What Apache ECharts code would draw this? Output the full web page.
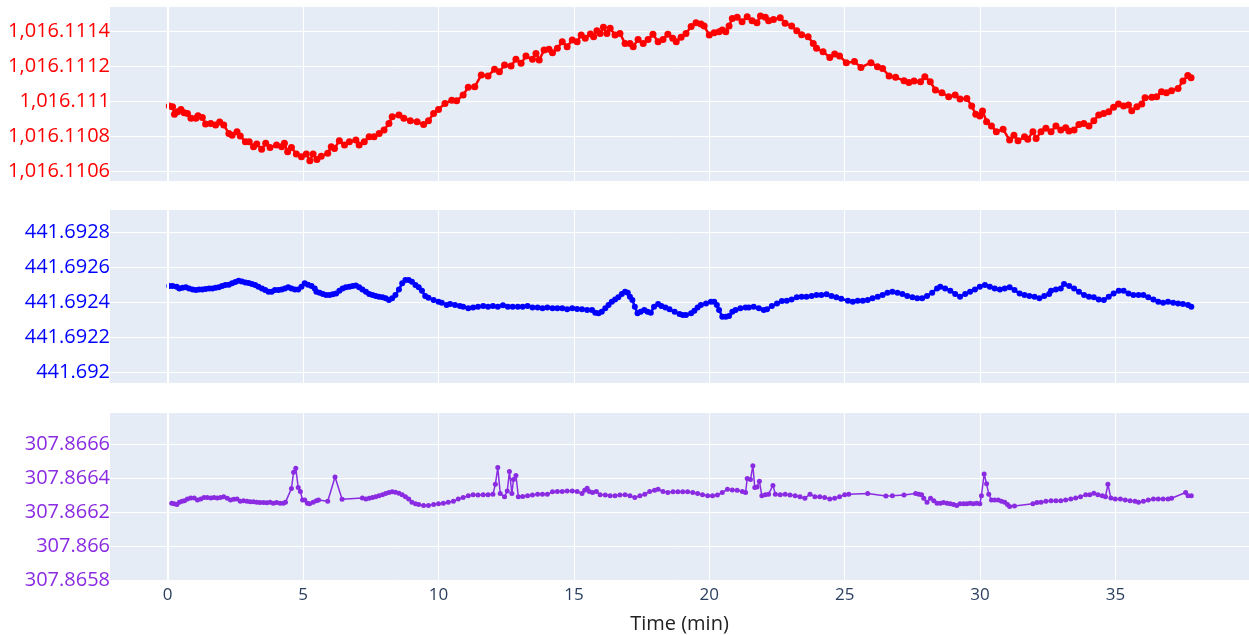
<!DOCTYPE html>
<html>
<head>
<meta charset="utf-8">
<script src="https://cdn.jsdelivr.net/npm/echarts@6/dist/echarts.min.js"></script>
<style>
  html, body { margin: 0; padding: 0; background: #ffffff; }
  #chart { width: 1249px; height: 635px; }
</style>
</head>
<body>
<div id="chart"></div>
<script>
// ---- Trace 1 (red) ----
const redTime = [
  0.06, 0.18, 0.25, 0.37, 0.49, 0.61, 0.73, 0.86, 1.04, 1.12, 1.28, 1.40, 1.59, 1.77, 1.92, 2.07,
  2.26, 2.38, 2.56, 2.68, 2.87, 3.01, 3.17, 3.29, 3.47, 3.62, 3.78, 4.02, 4.21, 4.31, 4.43, 4.57,
  4.75, 4.94, 5.12, 5.25, 5.37, 5.51, 5.67, 5.91, 6.04, 6.16, 6.34, 6.53, 6.71, 6.95, 7.07, 7.26,
  7.44, 7.62, 7.81, 7.99, 8.17, 8.29, 8.54, 8.72, 8.96, 9.21, 9.45, 9.63, 9.82, 10.00, 10.24, 10.49,
  10.67, 10.91, 11.10, 11.34, 11.58, 11.83, 12.07, 12.25, 12.44, 12.68, 12.86, 13.05, 13.23, 13.47,
  13.60, 13.72, 13.90, 14.08, 14.21, 14.39, 14.57, 14.75, 14.94, 15.12, 15.27, 15.42, 15.61, 15.73,
  15.85, 15.97, 16.09, 16.22, 16.34, 16.52, 16.70, 16.89, 17.07, 17.19, 17.37, 17.56, 17.74, 17.92,
  18.11, 18.29, 18.47, 18.65, 18.78, 18.96, 19.14, 19.33, 19.51, 19.69, 19.81, 20.00, 20.18, 20.36,
  20.48, 20.61, 20.73, 20.85, 21.03, 21.21, 21.40, 21.58, 21.76, 21.89, 22.07, 22.19, 22.37, 22.62,
  22.80, 23.04, 23.23, 23.41, 23.65, 23.84, 23.96, 24.20, 24.45, 24.63, 24.81, 25.06, 25.36, 25.60,
  25.97, 26.21, 26.40, 26.64, 26.88, 27.19, 27.37, 27.56, 27.80, 27.96, 28.16, 28.35, 28.59, 28.84,
  29.08, 29.26, 29.51, 29.69, 29.84, 29.99, 30.09, 30.24, 30.42, 30.60, 30.85, 31.09, 31.25, 31.40,
  31.64, 31.76, 31.95, 32.07, 32.25, 32.43, 32.62, 32.80, 32.98, 33.16, 33.28, 33.47, 33.65, 33.83,
  34.02, 34.20, 34.38, 34.56, 34.75, 34.93, 35.11, 35.30, 35.48, 35.60, 35.79, 35.97, 36.09, 36.34,
  36.52, 36.70, 36.88, 37.07, 37.31, 37.49, 37.67, 37.79
];
const redValue = [
  1016.110975, 1016.110971, 1016.110928, 1016.110943, 1016.110956, 1016.110937, 1016.110933, 1016.110905,
  1016.110905, 1016.110920, 1016.110910, 1016.110872, 1016.110876, 1016.110867, 1016.110884, 1016.110867,
  1016.110819, 1016.110809, 1016.110829, 1016.110804, 1016.110771, 1016.110771, 1016.110743, 1016.110758,
  1016.110729, 1016.110762, 1016.110739, 1016.110752, 1016.110743, 1016.110762, 1016.110714, 1016.110739,
  1016.110701, 1016.110686, 1016.110701, 1016.110663, 1016.110701, 1016.110670, 1016.110689, 1016.110705,
  1016.110743, 1016.110733, 1016.110777, 1016.110752, 1016.110771, 1016.110781, 1016.110752, 1016.110771,
  1016.110800, 1016.110800, 1016.110819, 1016.110838, 1016.110876, 1016.110914, 1016.110924, 1016.110905,
  1016.110891, 1016.110886, 1016.110870, 1016.110891, 1016.110933, 1016.110956, 1016.110990, 1016.111009,
  1016.111005, 1016.111038, 1016.111082, 1016.111086, 1016.111152, 1016.111147, 1016.111185, 1016.111171,
  1016.111210, 1016.111204, 1016.111242, 1016.111219, 1016.111261, 1016.111242, 1016.111276, 1016.111238,
  1016.111295, 1016.111299, 1016.111280, 1016.111305, 1016.111343, 1016.111314, 1016.111352, 1016.111343,
  1016.111381, 1016.111362, 1016.111387, 1016.111371, 1016.111406, 1016.111390, 1016.111425, 1016.111390,
  1016.111419, 1016.111381, 1016.111390, 1016.111333, 1016.111333, 1016.111314, 1016.111356, 1016.111333,
  1016.111356, 1016.111385, 1016.111343, 1016.111356, 1016.111385, 1016.111362, 1016.111343, 1016.111368,
  1016.111390, 1016.111429, 1016.111451, 1016.111444, 1016.111432, 1016.111381, 1016.111394, 1016.111400,
  1016.111410, 1016.111400, 1016.111432, 1016.111476, 1016.111482, 1016.111457, 1016.111486, 1016.111463,
  1016.111451, 1016.111490, 1016.111482, 1016.111463, 1016.111470, 1016.111480, 1016.111448, 1016.111432,
  1016.111406, 1016.111383, 1016.111371, 1016.111333, 1016.111305, 1016.111286, 1016.111253, 1016.111272,
  1016.111261, 1016.111223, 1016.111229, 1016.111196, 1016.111223, 1016.111200, 1016.111190, 1016.111147,
  1016.111139, 1016.111120, 1016.111109, 1016.111118, 1016.111114, 1016.111143, 1016.111114, 1016.111067,
  1016.111051, 1016.111029, 1016.111038, 1016.111015, 1016.111019, 1016.110975, 1016.110928, 1016.110918,
  1016.110947, 1016.110886, 1016.110861, 1016.110829, 1016.110842, 1016.110781, 1016.110809, 1016.110777,
  1016.110800, 1016.110785, 1016.110829, 1016.110790, 1016.110829, 1016.110848, 1016.110829, 1016.110861,
  1016.110838, 1016.110851, 1016.110832, 1016.110838, 1016.110870, 1016.110876, 1016.110861, 1016.110891,
  1016.110924, 1016.110933, 1016.110943, 1016.110968, 1016.110987, 1016.110975, 1016.110981, 1016.110949,
  1016.110971, 1016.110987, 1016.111023, 1016.111025, 1016.111029, 1016.111057, 1016.111051, 1016.111063,
  1016.111076, 1016.111118, 1016.111149, 1016.111137
];

// ---- Trace 2 (blue) ----
const blueTime = [
  0.06, 0.18, 0.33, 0.43, 0.55, 0.67, 0.79, 0.92, 1.04, 1.16, 1.28, 1.40, 1.53, 1.65, 1.77, 1.89,
  2.01, 2.13, 2.26, 2.38, 2.50, 2.62, 2.74, 2.87, 2.99, 3.11, 3.23, 3.35, 3.48, 3.60, 3.72, 3.84,
  3.96, 4.09, 4.21, 4.33, 4.45, 4.57, 4.70, 4.82, 4.94, 5.06, 5.18, 5.31, 5.43, 5.49, 5.61, 5.73,
  5.85, 5.98, 6.10, 6.22, 6.34, 6.46, 6.58, 6.71, 6.83, 6.95, 7.07, 7.19, 7.32, 7.44, 7.56, 7.68,
  7.80, 7.93, 8.05, 8.17, 8.29, 8.41, 8.54, 8.66, 8.78, 8.90, 9.02, 9.15,
  9.27, 9.39, 9.51, 9.63, 9.82, 10.00, 10.12, 10.30, 10.43, 10.61, 10.79, 10.91, 11.10, 11.28, 11.46,
  11.65, 11.83, 12.01, 12.19, 12.38, 12.56, 12.74, 12.93, 13.11, 13.29, 13.47, 13.66, 13.84, 14.02,
  14.21, 14.39, 14.57, 14.75, 14.94, 15.12, 15.30, 15.49, 15.67, 15.79, 15.91, 16.03, 16.16, 16.28,
  16.40, 16.52, 16.64, 16.77, 16.89, 16.99, 17.07, 17.16, 17.25, 17.35, 17.47, 17.60, 17.72, 17.84,
  17.96, 18.11, 18.23, 18.38, 18.53, 18.72, 18.90, 19.02, 19.14, 19.33, 19.45, 19.57, 19.69, 19.88,
  20.06, 20.18, 20.28, 20.36, 20.48, 20.61, 20.73, 20.85, 20.97, 21.15, 21.34, 21.46, 21.64, 21.83,
  22.01, 22.13, 22.31, 22.50, 22.68, 22.86, 23.04, 23.23, 23.41, 23.59, 23.78, 23.96, 24.14, 24.33,
  24.51, 24.69, 24.87,
  25.12, 25.30, 25.48, 25.67, 25.85, 26.03, 26.22, 26.40, 26.58, 26.76, 26.95, 27.13, 27.31, 27.50,
  27.68, 27.86, 28.04, 28.23, 28.41, 28.53, 28.71, 28.90, 29.08, 29.26, 29.45, 29.63, 29.81, 29.99,
  30.18, 30.36, 30.54, 30.73, 30.91, 31.09, 31.27, 31.46, 31.64, 31.82, 32.01, 32.19, 32.37, 32.55,
  32.62, 32.80, 32.98, 33.10, 33.29, 33.47, 33.65, 33.84, 34.02, 34.20, 34.38, 34.57, 34.75, 34.93,
  35.12, 35.30, 35.48, 35.66, 35.85, 36.03, 36.21, 36.40, 36.58, 36.76, 36.94, 37.13, 37.31, 37.49,
  37.68, 37.80
];
const blueValue = [
  441.692492, 441.692492, 441.692489, 441.692479, 441.692483, 441.692485, 441.692479, 441.692473,
  441.692470, 441.692473, 441.692473, 441.692475, 441.692479, 441.692479, 441.692483, 441.692485,
  441.692492, 441.692498, 441.692500, 441.692508, 441.692515, 441.692523, 441.692519, 441.692513,
  441.692510, 441.692504, 441.692498, 441.692489, 441.692479, 441.692470, 441.692460, 441.692460,
  441.692470, 441.692470, 441.692473, 441.692479, 441.692485, 441.692479, 441.692473, 441.692473,
  441.692489, 441.692508, 441.692500, 441.692492, 441.692479, 441.692460, 441.692454, 441.692447,
  441.692441, 441.692441, 441.692445, 441.692450, 441.692466, 441.692479, 441.692485, 441.692489,
  441.692492, 441.692496, 441.692485, 441.692473, 441.692460, 441.692447, 441.692441, 441.692435,
  441.692431, 441.692428, 441.692422, 441.692412, 441.692422, 441.692441, 441.692473, 441.692508,
  441.692527, 441.692527, 441.692517, 441.692498,
  441.692485, 441.692466, 441.692435, 441.692426, 441.692412, 441.692403, 441.692397, 441.692384,
  441.692389, 441.692384, 441.692378, 441.692374, 441.692365, 441.692370, 441.692374, 441.692378,
  441.692374, 441.692378, 441.692374, 441.692382, 441.692374, 441.692374, 441.692374, 441.692374,
  441.692378, 441.692370, 441.692370, 441.692365, 441.692370, 441.692365, 441.692365, 441.692365,
  441.692359, 441.692365, 441.692361, 441.692359, 441.692355, 441.692355, 441.692340, 441.692336,
  441.692345, 441.692365, 441.692384, 441.692403, 441.692416, 441.692428, 441.692447, 441.692460,
  441.692454, 441.692431, 441.692412, 441.692374, 441.692336, 441.692345, 441.692355, 441.692345,
  441.692340, 441.692374, 441.692389, 441.692378, 441.692370, 441.692359, 441.692345, 441.692332,
  441.692326, 441.692326, 441.692336, 441.692351, 441.692370, 441.692384, 441.692393, 441.692403,
  441.692403, 441.692384, 441.692355, 441.692317, 441.692317, 441.692321, 441.692345, 441.692355,
  441.692365, 441.692370, 441.692370, 441.692374, 441.692365, 441.692355, 441.692359, 441.692378,
  441.692393, 441.692407, 441.692408, 441.692416, 441.692428, 441.692431, 441.692431, 441.692435,
  441.692441, 441.692441, 441.692445, 441.692435, 441.692428, 441.692420,
  441.692408, 441.692403, 441.692408, 441.692408, 441.692412, 441.692422, 441.692431, 441.692441,
  441.692454, 441.692460, 441.692454, 441.692447, 441.692435, 441.692428, 441.692422, 441.692422,
  441.692435, 441.692454, 441.692479, 441.692489, 441.692479, 441.692466, 441.692447, 441.692431,
  441.692447, 441.692460, 441.692473, 441.692489, 441.692498, 441.692489, 441.692479, 441.692473,
  441.692479, 441.692485, 441.692470, 441.692450, 441.692441, 441.692435, 441.692431, 441.692422,
  441.692435, 441.692447, 441.692466, 441.692473, 441.692479, 441.692504, 441.692492, 441.692479,
  441.692460, 441.692441, 441.692431, 441.692428, 441.692416, 441.692412, 441.692431, 441.692450,
  441.692466, 441.692466, 441.692450, 441.692441, 441.692441, 441.692441, 441.692428, 441.692416,
  441.692403, 441.692397, 441.692403, 441.692397, 441.692393, 441.692389, 441.692384, 441.692374
];

// ---- Trace 3 (purple), [time, value] ----
const purplePoints = [
  [0.15, 307.866255], [0.24, 307.866251], [0.34, 307.866247], [0.43, 307.866261], [0.53, 307.866266],
  [0.62, 307.866270], [0.73, 307.866280], [0.85, 307.866285], [0.98, 307.866285], [1.10, 307.866274],
  [1.22, 307.866280], [1.34, 307.866289], [1.46, 307.866289], [1.59, 307.866285], [1.71, 307.866289],
  [1.83, 307.866285], [1.95, 307.866289], [2.07, 307.866293], [2.20, 307.866284], [2.32, 307.866274],
  [2.44, 307.866278], [2.56, 307.866280], [2.68, 307.866266], [2.80, 307.866270], [2.93, 307.866266],
  [3.05, 307.866264], [3.17, 307.866263], [3.29, 307.866261], [3.41, 307.866259], [3.54, 307.866259],
  [3.66, 307.866257], [3.78, 307.866261], [3.90, 307.866255], [4.02, 307.866259], [4.15, 307.866255],
  [4.27, 307.866255], [4.35, 307.866261], [4.57, 307.866341], [4.65, 307.866438], [4.73, 307.866461],
  [4.82, 307.866347], [4.90, 307.866324], [4.98, 307.866274], [5.06, 307.866274], [5.16, 307.866255],
  [5.24, 307.866251], [5.37, 307.866261], [5.49, 307.866270], [5.57, 307.866274], [5.91, 307.866266],
  [6.18, 307.866410], [6.44, 307.866278], [7.19, 307.866285], [7.32, 307.866280], [7.44, 307.866284],
  [7.56, 307.866289], [7.68, 307.866293], [7.80, 307.866299], [7.93, 307.866305], [8.05, 307.866312],
  [8.17, 307.866318], [8.29, 307.866322], [8.41, 307.866320], [8.54, 307.866314], [8.66, 307.866305],
  [8.78, 307.866293], [8.90, 307.866280], [9.02, 307.866261], [9.15, 307.866251],
  [9.27, 307.866247], [9.45, 307.866242], [9.63, 307.866242], [9.82, 307.866247], [10.00, 307.866251],
  [10.18, 307.866255], [10.36, 307.866261], [10.55, 307.866266], [10.73, 307.866280], [10.91, 307.866289],
  [11.10, 307.866299], [11.28, 307.866305], [11.46, 307.866303], [11.65, 307.866305], [11.83, 307.866305],
  [12.01, 307.866308], [12.10, 307.866366], [12.19, 307.866465], [12.28, 307.866312], [12.44, 307.866293],
  [12.54, 307.866327], [12.62, 307.866442], [12.71, 307.866312], [12.77, 307.866394], [12.86, 307.866419],
  [12.95, 307.866293], [13.11, 307.866295], [13.29, 307.866299], [13.47, 307.866303], [13.66, 307.866308],
  [13.84, 307.866308], [14.02, 307.866308], [14.21, 307.866322], [14.39, 307.866324], [14.57, 307.866324],
  [14.75, 307.866327], [14.94, 307.866327], [15.12, 307.866324], [15.30, 307.866312], [15.40, 307.866331],
  [15.49, 307.866343], [15.57, 307.866324], [15.69, 307.866318], [15.83, 307.866324], [15.97, 307.866305],
  [16.16, 307.866303], [16.34, 307.866299], [16.52, 307.866299], [16.70, 307.866303], [16.89, 307.866305],
  [17.07, 307.866299], [17.25, 307.866289], [17.44, 307.866299], [17.62, 307.866308], [17.80, 307.866324],
  [17.98, 307.866331], [18.11, 307.866337], [18.29, 307.866324], [18.47, 307.866318], [18.66, 307.866322],
  [18.84, 307.866322], [19.02, 307.866322], [19.20, 307.866322], [19.39, 307.866318], [19.57, 307.866312],
  [19.75, 307.866305], [19.94, 307.866299], [20.12, 307.866299], [20.30, 307.866303], [20.48, 307.866318],
  [20.67, 307.866337], [20.85, 307.866333], [21.03, 307.866331], [21.22, 307.866324], [21.34, 307.866318],
  [21.40, 307.866400], [21.52, 307.866394], [21.61, 307.866476], [21.68, 307.866347], [21.76, 307.866350],
  [21.85, 307.866385], [21.94, 307.866299], [22.07, 307.866305], [22.19, 307.866308], [22.35, 307.866360],
  [22.44, 307.866308], [22.62, 307.866305], [22.80, 307.866308], [22.98, 307.866303], [23.17, 307.866299],
  [23.35, 307.866293], [23.53, 307.866284], [23.72, 307.866308], [23.90, 307.866293], [24.08, 307.866293],
  [24.26, 307.866289], [24.45, 307.866280], [24.63, 307.866284], [24.81, 307.866293],
  [25.00, 307.866305], [25.15, 307.866308], [25.85, 307.866312], [26.52, 307.866297], [26.76, 307.866299],
  [27.19, 307.866303], [27.62, 307.866312], [27.74, 307.866308], [27.84, 307.866305], [27.92, 307.866284],
  [28.04, 307.866261], [28.17, 307.866284], [28.29, 307.866270], [28.41, 307.866255], [28.53, 307.866255],
  [28.65, 307.866259], [28.78, 307.866255], [28.90, 307.866251], [29.02, 307.866247], [29.14, 307.866242],
  [29.26, 307.866251], [29.39, 307.866251], [29.51, 307.866251], [29.63, 307.866255], [29.75, 307.866251],
  [29.87, 307.866255], [29.99, 307.866251], [30.05, 307.866299], [30.15, 307.866427], [30.24, 307.866369],
  [30.32, 307.866308], [30.42, 307.866274], [30.54, 307.866274], [30.67, 307.866274], [30.79, 307.866266],
  [30.91, 307.866261], [31.01, 307.866247], [31.09, 307.866236], [31.27, 307.866238], [31.95, 307.866251],
  [32.10, 307.866259], [32.25, 307.866261], [32.43, 307.866266], [32.62, 307.866270], [32.80, 307.866270],
  [32.98, 307.866270], [33.16, 307.866274], [33.35, 307.866280], [33.53, 307.866285], [33.71, 307.866293],
  [33.90, 307.866305], [34.05, 307.866305], [34.20, 307.866314], [34.35, 307.866305], [34.51, 307.866299],
  [34.63, 307.866293], [34.72, 307.866366], [34.83, 307.866285], [34.99, 307.866280], [35.18, 307.866280],
  [35.36, 307.866274], [35.54, 307.866270], [35.72, 307.866266], [35.85, 307.866261], [36.03, 307.866266],
  [36.21, 307.866274], [36.40, 307.866280], [36.58, 307.866280], [36.76, 307.866280], [36.94, 307.866280],
  [37.07, 307.866284], [37.59, 307.866318], [37.68, 307.866299], [37.80, 307.866299]
];

// ---- Axis ticks ----
const timeTicks = [0, 5, 10, 15, 20, 25, 30, 35];
const redTicks = [1016.1106, 1016.1108, 1016.111, 1016.1112, 1016.1114];
const blueTicks = [441.692, 441.6922, 441.6924, 441.6926, 441.6928];
const purpleTicks = [307.8658, 307.866, 307.8662, 307.8664, 307.8666];

const RED = '#ff0000';
const BLUE = '#0000ff';
const PURPLE = '#8a2be2';
const FONT = "'Open Sans', 'Liberation Sans', sans-serif";

const zip = (xs, ys) => xs.map((x, i) => [x, ys[i]]);
const fmt = v => Number(v).toLocaleString('en-US', { maximumFractionDigits: 4 });

const grids = [
  { left: 110, width: 1150, top: 7, height: 174 },
  { left: 110, width: 1150, top: 210, height: 173 },
  { left: 110, width: 1150, top: 413, height: 173 }
].map(g => Object.assign({ show: true, backgroundColor: '#e5ecf6', borderWidth: 0, containLabel: false }, g));

const xAxes = [0, 1, 2].map(i => ({
  type: 'value',
  gridIndex: i,
  min: -2.13,
  max: 39.93,
  axisLine: { show: false },
  axisTick: { show: false, customValues: timeTicks },
  axisLabel: {
    show: i === 2,
    customValues: timeTicks,
    color: '#2a3f5f',
    fontSize: 17,
    fontFamily: FONT,
    margin: 6
  },
  splitLine: { show: true, lineStyle: { color: '#ffffff', width: 1 } },
  name: i === 2 ? 'Time (min)' : '',
  nameLocation: 'middle',
  nameGap: 33,
  nameTextStyle: { color: '#222222', fontSize: 20, fontFamily: FONT }
}));

const yDefs = [
  { min: 1016.110547, max: 1016.111541, ticks: redTicks, color: RED },
  { min: 441.691937, max: 441.692928, ticks: blueTicks, color: BLUE },
  { min: 307.865796, max: 307.866787, ticks: purpleTicks, color: PURPLE }
];
const yAxes = yDefs.map((d, i) => ({
  type: 'value',
  gridIndex: i,
  min: d.min,
  max: d.max,
  axisLine: { show: false },
  axisTick: { show: false, customValues: d.ticks },
  axisLabel: {
    customValues: d.ticks,
    formatter: fmt,
    color: d.color,
    fontSize: 20,
    fontFamily: FONT,
    margin: 0
  },
  splitLine: { show: true, lineStyle: { color: '#ffffff', width: 1 } }
}));

// white zero line for time = 0 in each panel, kept under the data
const zeroLines = [0, 1, 2].map(i => ({
  type: 'line',
  xAxisIndex: i,
  yAxisIndex: i,
  data: [],
  z: 1,
  silent: true,
  markLine: {
    silent: true,
    symbol: ['none', 'none'],
    label: { show: false },
    lineStyle: { color: '#ffffff', width: 2, type: 'solid' },
    data: [{ xAxis: 0 }]
  }
}));

const traceSeries = [
  { data: zip(redTime, redValue), color: RED, size: 7, width: 2.5 },
  { data: zip(blueTime, blueValue), color: BLUE, size: 6, width: 2.5 },
  { data: purplePoints, color: PURPLE, size: 5, width: 1.5 }
].map((s, i) => ({
  type: 'line',
  xAxisIndex: i,
  yAxisIndex: i,
  data: s.data,
  z: 3,
  symbol: 'circle',
  symbolSize: s.size,
  showSymbol: true,
  itemStyle: { color: s.color },
  lineStyle: { color: s.color, width: s.width },
  emphasis: { disabled: true }
}));

const chart = echarts.init(document.getElementById('chart'), null, { renderer: 'canvas' });
chart.setOption({
  animation: false,
  backgroundColor: '#ffffff',
  textStyle: { fontFamily: FONT },
  grid: grids,
  xAxis: xAxes,
  yAxis: yAxes,
  series: zeroLines.concat(traceSeries)
});
</script>
</body>
</html>
